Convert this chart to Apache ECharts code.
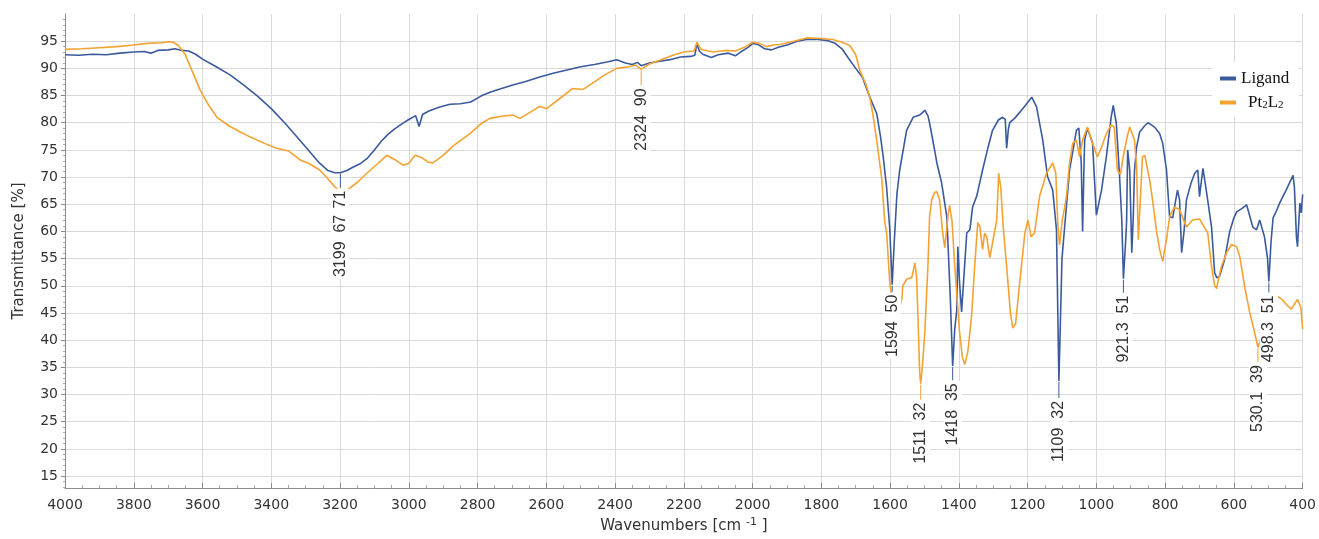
<!DOCTYPE html>
<html><head><meta charset="utf-8">
<script src="https://cdn.jsdelivr.net/npm/echarts@6/dist/echarts.min.js"></script>
<style>html,body{margin:0;padding:0;background:#fff}#c{width:1319px;height:539px}</style>
</head><body><div id="c"></div><script>
// ---- data (wavenumber cm-1, transmittance %) ----
const seriesNames = ['Ligand', 'Pt2L2'];
const ligandPoints = [[4000,92.5],[3960,92.4],[3920,92.6],[3880,92.5],[3840,92.8],[3800,93.0],[3770,93.1],[3750,92.8],[3730,93.3],[3700,93.4],[3680,93.6],[3660,93.3],[3640,93.2],[3620,92.6],[3600,91.7],[3560,90.3],[3520,88.8],[3480,86.9],[3440,84.9],[3400,82.6],[3360,79.9],[3320,77.0],[3290,74.8],[3260,72.6],[3235,71.2],[3215,70.8],[3199,70.8],[3180,71.2],[3160,71.9],[3140,72.5],[3120,73.5],[3100,75.0],[3080,76.6],[3060,77.9],[3040,78.9],[3020,79.8],[3000,80.6],[2980,81.3],[2970,79.3],[2960,81.5],[2940,82.2],[2910,82.9],[2880,83.4],[2850,83.5],[2820,83.8],[2790,84.9],[2764,85.6],[2730,86.3],[2700,86.9],[2660,87.6],[2619,88.4],[2580,89.1],[2540,89.7],[2500,90.3],[2460,90.7],[2420,91.2],[2395,91.6],[2370,91.0],[2350,90.7],[2335,91.1],[2324,90.5],[2300,91.0],[2270,91.3],[2240,91.6],[2210,92.1],[2180,92.2],[2168,92.4],[2162,94.6],[2155,93.2],[2145,92.6],[2120,92.0],[2100,92.5],[2070,92.8],[2050,92.3],[2030,93.2],[2010,94.0],[2000,94.6],[1985,94.4],[1965,93.6],[1945,93.4],[1925,93.9],[1900,94.3],[1870,95.0],[1843,95.3],[1810,95.3],[1780,95.1],[1760,94.6],[1740,93.6],[1717,91.5],[1700,90.0],[1680,88.3],[1659,84.7],[1639,81.7],[1628,77.5],[1620,73.7],[1610,68.0],[1601,60.5],[1594,50.2],[1588,58.0],[1580,67.0],[1572,71.3],[1552,78.6],[1533,81.0],[1514,81.4],[1505,81.9],[1499,82.3],[1490,81.3],[1485,79.9],[1470,74.8],[1464,72.6],[1450,68.9],[1435,62.7],[1425,48.0],[1418,35.2],[1412,42.0],[1406,45.6],[1403,57.2],[1398,50.6],[1392,45.2],[1385,52.0],[1377,59.7],[1368,60.3],[1360,64.5],[1348,66.5],[1331,71.3],[1315,75.5],[1302,78.6],[1285,80.5],[1273,81.0],[1265,80.6],[1261,75.3],[1256,78.8],[1252,80.0],[1238,80.8],[1223,81.9],[1205,83.3],[1188,84.7],[1174,82.9],[1156,76.8],[1142,70.1],[1127,67.6],[1116,60.3],[1109,32.5],[1100,55.0],[1093,60.3],[1078,71.3],[1058,78.6],[1051,79.0],[1044,72.6],[1040,60.0],[1036,72.0],[1034,76.8],[1026,79.0],[1011,76.2],[1000,63.0],[985,67.6],[971,73.7],[957,81.0],[951,83.2],[942,79.9],[933,70.7],[926,62.0],[921.3,51.3],[915,58.0],[912,62.0],[909,75.0],[903,71.3],[897,56.1],[893,62.0],[889,71.3],[883,75.5],[874,78.3],[860,79.4],[850,80.0],[840,79.6],[831,79.2],[816,78.0],[807,76.2],[796,71.3],[787,62.7],[778,62.5],[770,65.5],[764,67.6],[758,65.8],[752,56.1],[745,60.0],[738,65.8],[725,68.8],[714,70.7],[705,71.3],[700,66.4],[690,71.6],[679,67.0],[665,60.8],[656,52.4],[650,51.5],[642,51.7],[627,54.8],[612,60.0],[600,62.5],[592,63.6],[575,64.3],[563,64.9],[545,60.8],[534,60.3],[525,62.1],[511,59.0],[502,55.0],[498.3,50.8],[492,58.0],[486,62.5],[476,63.8],[467,65.2],[448,67.6],[428,70.3],[424,68.2],[418,59.0],[415,57.2],[410,63.0],[408,65.2],[404,63.4],[400,66.8]];
const ptPoints = [[4000,93.5],[3950,93.6],[3900,93.8],[3850,94.0],[3800,94.3],[3760,94.6],[3720,94.7],[3700,94.9],[3685,94.8],[3670,94.2],[3650,92.5],[3630,89.5],[3607,86.0],[3580,83.0],[3558,81.0],[3520,79.3],[3490,78.3],[3462,77.4],[3420,76.2],[3384,75.3],[3350,74.8],[3317,73.2],[3290,72.5],[3259,71.3],[3240,70.0],[3215,68.2],[3199,67.3],[3180,67.6],[3150,69.0],[3122,70.7],[3090,72.5],[3064,74.0],[3040,73.2],[3017,72.2],[3000,72.5],[2982,74.0],[2960,73.5],[2945,72.8],[2930,72.6],[2900,74.0],[2870,75.8],[2822,78.0],[2790,79.8],[2764,80.8],[2730,81.2],[2697,81.4],[2677,80.8],[2650,81.8],[2619,83.0],[2599,82.6],[2560,84.5],[2523,86.3],[2494,86.1],[2460,87.5],[2430,88.8],[2395,90.0],[2360,90.3],[2340,90.6],[2324,89.8],[2300,90.8],[2270,91.5],[2232,92.4],[2200,93.0],[2170,93.2],[2162,94.8],[2150,93.5],[2115,93.0],[2080,93.3],[2050,93.2],[2020,94.0],[2000,94.8],[1980,94.6],[1960,94.0],[1940,94.3],[1920,94.4],[1880,95.0],[1843,95.6],[1800,95.5],[1767,95.3],[1740,94.8],[1717,94.2],[1700,92.5],[1688,89.6],[1670,87.0],[1659,84.7],[1650,81.5],[1639,76.8],[1624,69.5],[1616,62.0],[1610,59.7],[1601,50.6],[1596,48.1],[1585,45.0],[1575,45.5],[1566,47.5],[1563,50.0],[1552,51.2],[1537,51.5],[1528,54.2],[1523,51.7],[1519,44.4],[1514,34.1],[1511,32.0],[1505,36.0],[1499,41.5],[1490,53.6],[1485,62.7],[1479,65.8],[1470,67.2],[1464,67.3],[1456,65.8],[1447,59.7],[1441,57.0],[1436,60.0],[1432,62.7],[1427,64.8],[1420,62.0],[1412,53.6],[1398,41.5],[1390,37.0],[1383,35.5],[1374,37.8],[1363,44.4],[1354,53.6],[1345,61.6],[1339,60.9],[1331,56.7],[1325,59.7],[1319,59.0],[1310,55.2],[1302,57.9],[1290,62.1],[1284,70.7],[1278,68.0],[1270,60.0],[1261,53.6],[1250,45.0],[1243,42.2],[1235,43.0],[1223,50.6],[1208,59.7],[1199,62.1],[1190,59.0],[1180,59.7],[1165,66.5],[1145,70.7],[1127,72.6],[1118,70.7],[1112,61.0],[1107,57.5],[1099,62.1],[1087,66.4],[1078,72.6],[1069,76.2],[1058,76.8],[1049,73.7],[1040,76.8],[1026,79.2],[1011,76.2],[997,73.7],[985,75.5],[971,78.0],[957,79.6],[948,79.2],[939,71.3],[930,70.5],[922,73.7],[910,77.5],[903,79.2],[889,76.8],[883,72.0],[878,58.5],[872,66.0],[866,73.7],[859,74.0],[845,69.5],[837,66.0],[825,60.0],[816,56.7],[807,54.5],[796,58.5],[787,62.7],[773,64.5],[758,64.0],[738,60.8],[720,62.1],[700,62.3],[676,59.7],[665,53.6],[656,50.0],[650,49.5],[647,50.6],[636,53.6],[621,56.1],[607,57.6],[592,57.2],[583,55.4],[569,50.0],[554,45.1],[540,41.5],[530.1,38.7],[476,48.2],[460,47.5],[448,46.6],[433,45.7],[424,46.6],[415,47.5],[410,47.8],[405,46.0],[400,42.0]];
const ligandPeakWave = [3199, 1594, 1418, 1109, 921.3, 498.3];
const ligandPeakText = ['3199  71', '1594  50', '1418  35', '1109  32', '921.3  51', '498.3  51'];
const ptPeakWave = [3199, 2324, 1511, 530.1];
const ptPeakText = ['3199  67', '2324  90', '1511  32', '530.1  39'];
const yTickValues = [15,20,25,30,35,40,45,50,55,60,65,70,75,80,85,90,95];

// ---- styling ----
const COLORS = ['#3b5a9d', '#f4a232'];
const ligandLeader = [14, 6, 13, 16, 13, 10];
const ptLeader = [19, 15, 15, 14];
const Y_MIN = 12.8, Y_MAX = 100;
const yMinorTicks = [];
for (let v = 13; v < Y_MAX; v++) if (v % 5 !== 0) yMinorTicks.push(v);

function peakMarks(points, waves, texts, leaders, color) {
  return waves.map((w, i) => {
    const pt = points.find(p => p[0] === w);
    const L = leaders[i];
    return {
      coord: [pt[0], pt[1]],
      symbol: 'rect', symbolSize: [1, L], symbolOffset: [0, L / 2 + 1],
      itemStyle: { color: color },
      label: {
        show: true, formatter: texts[i], position: 'bottom', distance: 1,
        rotate: 90, align: 'right', verticalAlign: 'middle',
        color: '#333', fontSize: 16, fontFamily: 'Liberation Sans',
        backgroundColor: '#fff', padding: [1, 2]
      }
    };
  });
}

const chart = echarts.init(document.getElementById('c'), null, { renderer: 'canvas' });
chart.setOption({
  animation: false,
  backgroundColor: '#fff',
  grid: { left: 65, right: 16, top: 14, bottom: 49, containLabel: false },
  legend: {
    data: seriesNames, orient: 'vertical', left: 1212, top: 62,
    padding: [8, 10, 6, 8], backgroundColor: '#fff', itemGap: 7,
    icon: 'rect', itemWidth: 16, itemHeight: 4,
    textStyle: { fontFamily: 'Liberation Serif', fontSize: 17, color: '#111',
      rich: { s: { fontFamily: 'Liberation Serif', fontSize: 11, color: '#111', verticalAlign: 'bottom', padding: [6, 0, 0, 0] },
              m: { fontFamily: 'Liberation Serif', fontSize: 17, color: '#111' },
              g: { width: 7 } } },
    formatter: n => n === 'Pt2L2' ? '{g|}{m|Pt}{s|2}{m|L}{s|2}' : n,
    z: 20
  },
  xAxis: {
    type: 'value', inverse: true, min: 400, max: 4000, interval: 200,
    name: 'Wavenumbers [cm {sup|-1} ]', nameLocation: 'middle', nameGap: 29,
    nameTextStyle: { fontFamily: 'DejaVu Sans', fontSize: 15, color: '#333',
      rich: { sup: { fontFamily: 'DejaVu Sans', fontSize: 11, color: '#333', padding: [0, 0, 8, 0] } } },
    axisLine: { show: true, lineStyle: { color: '#8c8c8c' } },
    axisTick: { show: true, inside: true, length: 5, lineStyle: { color: '#8c8c8c' } },
    minorTick: { show: true, splitNumber: 4, length: 3, lineStyle: { color: '#aaa' } },
    axisLabel: { fontFamily: 'DejaVu Sans', fontSize: 14, color: '#333', margin: 10, formatter: v => String(v) },
    splitLine: { show: true, lineStyle: { color: '#d9d9d9', width: 1 } }
  },
  yAxis: [{
    type: 'value', min: Y_MIN, max: Y_MAX,
    name: 'Transmittance [%]', nameLocation: 'middle', nameGap: 38,
    nameTextStyle: { fontFamily: 'DejaVu Sans', fontSize: 15, color: '#333' },
    axisLine: { show: true, lineStyle: { color: '#8c8c8c' } },
    axisTick: { show: true, length: 4, customValues: yTickValues, lineStyle: { color: '#8c8c8c' } },
    axisLabel: { customValues: yTickValues, fontFamily: 'DejaVu Sans', fontSize: 14, color: '#333', margin: 7 },
    splitLine: { show: true, lineStyle: { color: '#d9d9d9', width: 1 } }
  }, {
    type: 'value', min: Y_MIN, max: Y_MAX, position: 'left',
    axisLine: { show: false }, axisLabel: { show: false }, splitLine: { show: false },
    axisTick: { show: true, length: 2, customValues: yMinorTicks, lineStyle: { color: '#aaa' } }
  }],
  series: [{
    name: seriesNames[0], type: 'line', data: ligandPoints, yAxisIndex: 0,
    showSymbol: false, symbol: 'none', lineStyle: { width: 1.6, color: COLORS[0] }, itemStyle: { color: COLORS[0] },
    markPoint: { silent: true, data: peakMarks(ligandPoints, ligandPeakWave, ligandPeakText, ligandLeader, COLORS[0]) }
  }, {
    name: seriesNames[1], type: 'line', data: ptPoints, yAxisIndex: 0,
    showSymbol: false, symbol: 'none', lineStyle: { width: 1.6, color: COLORS[1] }, itemStyle: { color: COLORS[1] },
    markPoint: { silent: true, data: peakMarks(ptPoints, ptPeakWave, ptPeakText, ptLeader, COLORS[1]) }
  }]
});
</script></body></html>
